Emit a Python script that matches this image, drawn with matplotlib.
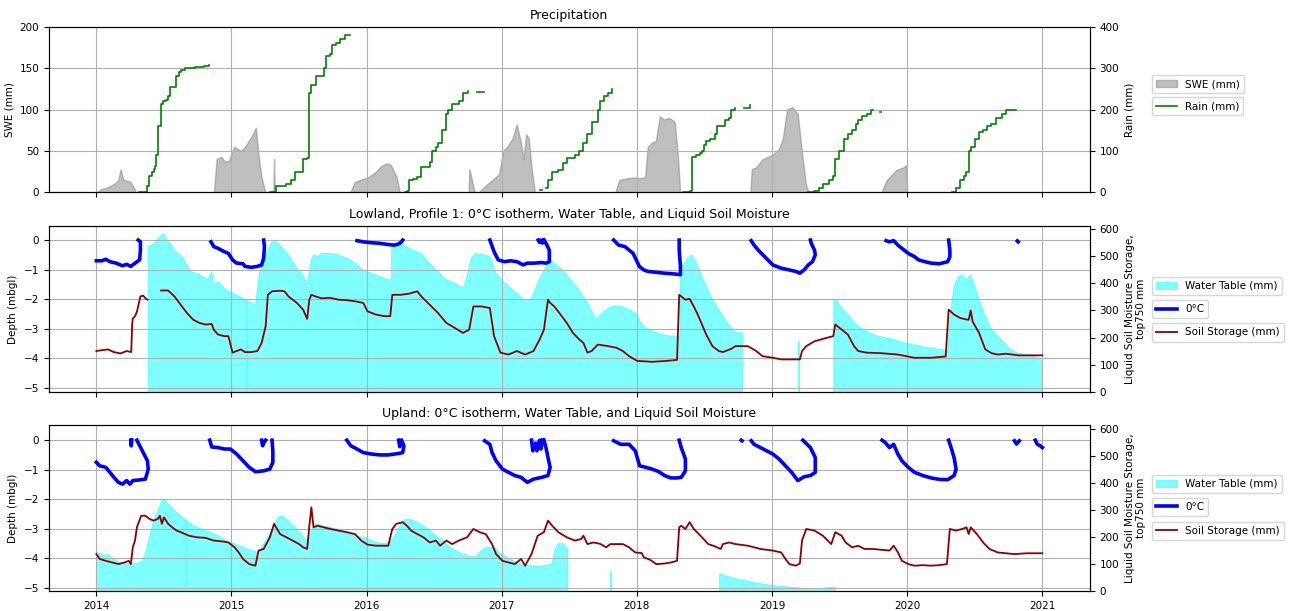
import numpy as np
import matplotlib
matplotlib.use("Agg")
import matplotlib.pyplot as plt

nan = np.nan

# ---- Precipitation ----
swe_year = [2014.00, 2014.04, 2014.07, 2014.13, 2014.16, 2014.18, 2014.20, 2014.25, 2014.28, 2014.29,
            2014.87, 2014.89, 2014.925, 2014.95, 2014.98, 2015.02, 2015.07, 2015.10, 2015.15, 2015.18, 2015.20, 2015.22, 2015.25,
            2015.31, 2015.315, 2015.32,
            2015.88, 2015.91, 2015.95, 2016.01, 2016.07, 2016.11, 2016.15, 2016.18, 2016.21, 2016.22, 2016.245,
            2016.755, 2016.76, 2016.80,
            2016.83, 2016.88, 2016.93, 2016.98, 2017.01, 2017.04, 2017.08, 2017.11, 2017.14, 2017.16, 2017.18, 2017.20, 2017.22, 2017.245,
            2017.84, 2017.87, 2017.93, 2017.98, 2018.02, 2018.06, 2018.08, 2018.11, 2018.14, 2018.17, 2018.20, 2018.24, 2018.28, 2018.305, 2018.32,
            2018.84, 2018.85, 2018.88, 2018.93, 2019.00, 2019.05, 2019.08, 2019.11, 2019.15, 2019.19, 2019.22, 2019.25, 2019.27,
            2019.81, 2019.83, 2019.85, 2019.92, 2019.97, 2019.995, 2020.0]
swe_mm = [0, 4, 5, 10, 14, 28, 15, 13, 5, 0,
          0, 40, 43, 37, 38, 55, 50, 55, 68, 78, 45, 20, 0,
          0, 40, 0,
          0, 12, 15, 18, 25, 32, 35, 33, 22, 20, 0,
          0, 28, 0,
          0, 8, 15, 22, 50, 55, 65, 82, 62, 40, 70, 65, 30, 0,
          0, 15, 17, 18, 17, 18, 55, 60, 62, 92, 88, 90, 85, 40, 0,
          0, 28, 30, 40, 45, 52, 65, 100, 103, 95, 50, 10, 0,
          0, 8, 15, 27, 30, 33, 0]

rain_year = [2014.316, 2014.37, 2014.378, 2014.393, 2014.409, 2014.424, 2014.433, 2014.445, 2014.455, 2014.476,
             2014.495, 2014.516, 2014.531, 2014.547, 2014.593, 2014.608, 2014.624, 2014.654, 2014.731, 2014.762, 2014.80, 2014.833, nan,
             2015.284, 2015.33, 2015.407, 2015.438, 2015.468, 2015.515, 2015.53, 2015.56, 2015.57, 2015.591, 2015.622,
             2015.668, 2015.684, 2015.70, 2015.73, 2015.745, 2015.776, 2015.806, 2015.837, 2015.877, nan,
             2016.283, 2016.298, 2016.313, 2016.344, 2016.375, 2016.405, 2016.467, 2016.482, 2016.513, 2016.528,
             2016.559, 2016.59, 2016.605, 2016.633, 2016.682, 2016.713, 2016.75, nan, 2016.82, 2016.866, nan,
             2017.28, 2017.296, nan, 2017.327, 2017.342, 2017.373, 2017.419, 2017.45, 2017.481, 2017.542, 2017.573,
             2017.604, 2017.634, 2017.665, 2017.696, 2017.711, 2017.727, 2017.757, 2017.788, 2017.813, nan,
             2018.344, 2018.39, 2018.405, 2018.436, 2018.467, 2018.482, 2018.498, 2018.513, 2018.544, 2018.575,
             2018.59, 2018.636, 2018.652, 2018.683, 2018.698, 2018.723, nan, 2018.79, 2018.837, nan,
             2019.268, 2019.314, 2019.345, 2019.376, 2019.422, 2019.453, 2019.468, 2019.499, 2019.53, 2019.561,
             2019.592, 2019.622, 2019.638, 2019.669, 2019.70, 2019.73, 2019.746, nan, 2019.80, 2019.81, nan,
             2020.331, 2020.362, 2020.393, 2020.424, 2020.439, 2020.455, 2020.47, 2020.501, 2020.532, 2020.562,
             2020.593, 2020.624, 2020.655, 2020.701, 2020.732, 2020.763, 2020.809]
rain_mm = [0, 0, 16, 40, 50, 56, 64, 90, 160, 214,
           220, 224, 234, 254, 280, 290, 296, 300, 302, 304, 306, 308, nan,
           0, 16, 20, 30, 50, 50, 80, 84, 240, 260, 280,
           280, 300, 330, 334, 356, 360, 370, 380, 380, nan,
           0, 4, 30, 32, 36, 60, 74, 100, 110, 120,
           150, 190, 200, 214, 220, 240, 244, nan, 242, 242, nan,
           6, 6, nan, 10, 30, 50, 54, 70, 84, 90, 100,
           120, 140, 170, 170, 200, 220, 234, 240, 250, nan,
           0, 3, 85, 90, 95, 100, 115, 125, 130, 140,
           160, 160, 175, 180, 200, 205, nan, 205, 210, nan,
           0, 3, 10, 20, 30, 40, 80, 100, 130, 140,
           150, 165, 175, 185, 190, 198, 200, nan, 195, 195, nan,
           0, 10, 30, 40, 50, 100, 110, 130, 145, 150,
           160, 165, 180, 190, 198, 200, 200]

# ---- Lowland, profile 1 ----
low_iso_year = [2014.00, 2014.04, 2014.07, 2014.10, 2014.147, 2014.194, 2014.224, 2014.255, 2014.286, 2014.32, 2014.326, 2014.326, 2014.31, nan,
                2014.848, 2014.869, 2014.90, 2014.946, 2014.977, 2015.008, 2015.038, 2015.085, 2015.10, 2015.146, 2015.192, 2015.223, 2015.238, 2015.244, 2015.238, nan,
                2015.929, 2015.975, 2016.037, 2016.098, 2016.16, 2016.206, 2016.237, 2016.258, 2016.267, nan,
                2016.912, 2016.943, 2016.974, 2017.02, 2017.066, 2017.112, 2017.158, 2017.189, 2017.235, 2017.296, 2017.327, 2017.352, 2017.352, 2017.327, 2017.312, nan,
                2017.27, 2017.28, 2017.29, 2017.30, 2017.31, nan,
                2017.828, 2017.865, 2017.911, 2017.972, 2018.018, 2018.051, 2018.082, 2018.143, 2018.205, 2018.267, 2018.322, 2018.322, 2018.313, 2018.313, nan,
                2018.846, 2018.867, 2018.898, 2018.945, 2019.006, 2019.068, 2019.129, 2019.176, 2019.206, 2019.237, 2019.268, 2019.299, 2019.32, 2019.314, 2019.29, 2019.284, nan,
                2019.844, 2019.869, 2019.90, 2019.931, 2019.961, 2020.008, 2020.054, 2020.085, 2020.131, 2020.177, 2020.239, 2020.30, 2020.316, 2020.316, 2020.307, nan,
                2020.815, 2020.822]
low_iso_depth = [-0.70, -0.70, -0.65, -0.73, -0.78, -0.87, -0.82, -0.89, -0.78, -0.67, -0.34, -0.06, 0.0, nan,
                 -0.06, -0.22, -0.28, -0.39, -0.45, -0.67, -0.78, -0.80, -0.89, -0.92, -0.89, -0.84, -0.61, -0.22, 0.0, nan,
                 -0.02, -0.06, -0.09, -0.11, -0.15, -0.17, -0.13, -0.06, 0.0, nan,
                 0.0, -0.39, -0.67, -0.73, -0.70, -0.73, -0.84, -0.78, -0.78, -0.76, -0.78, -0.73, -0.34, -0.11, 0.0, nan,
                 0.0, -0.08, 0.0, -0.10, 0.0, nan,
                 0.0, -0.17, -0.22, -0.45, -0.89, -1.01, -1.06, -1.09, -1.12, -1.14, -1.17, -0.89, -0.34, 0.0, nan,
                 -0.02, -0.17, -0.34, -0.56, -0.84, -0.95, -1.01, -1.06, -1.12, -1.01, -0.84, -0.73, -0.50, -0.34, -0.11, 0.0, nan,
                 -0.02, -0.06, -0.02, -0.17, -0.28, -0.45, -0.56, -0.67, -0.73, -0.78, -0.80, -0.73, -0.56, -0.34, 0.0, nan,
                 -0.03, -0.06]

low_wt_year = [2014.384, 2014.409, 2014.439, 2014.47, 2014.495, 2014.516, 2014.547, 2014.578, 2014.608, 2014.639,
               2014.67, 2014.70, 2014.731, 2014.762, 2014.793, 2014.823, 2014.854, 2014.869, 2014.90, 2014.931,
               2014.962, 2015.008, 2015.054, 2015.10, 2015.113, nan, 2015.118, 2015.131, 2015.177, 2015.192, 2015.207,
               2015.238, 2015.269, 2015.30, 2015.33, 2015.36, 2015.392, 2015.422, 2015.453, 2015.484, 2015.53,
               2015.56, 2015.57, 2015.591, 2015.607, 2015.637, 2015.668, 2015.73, 2015.791, 2015.853, 2015.914,
               2015.975, 2016.037, 2016.098, 2016.16, 2016.182, 2016.186, 2016.22, 2016.252, 2016.298, 2016.344,
               2016.405, 2016.467, 2016.528, 2016.59, 2016.651, 2016.713, 2016.743, 2016.774, 2016.805, 2016.866,
               2016.912, 2016.958, 2017.02, 2017.112, 2017.158, 2017.189, 2017.22, 2017.266, 2017.327, 2017.358,
               2017.389, 2017.45, 2017.511, 2017.573, 2017.634, 2017.696, 2017.757, 2017.819, 2017.88, 2017.942,
               2018.003, 2018.02, 2018.051, 2018.082, 2018.112, 2018.174, 2018.236, 2018.297, 2018.318, 2018.322,
               2018.344, 2018.374, 2018.405, 2018.436, 2018.467, 2018.513, 2018.559, 2018.606, 2018.652, 2018.698,
               2018.729, 2018.775, 2018.781, nan, 2019.195, 2019.199, nan,
               2019.456, 2019.484, 2019.515, 2019.561, 2019.607, 2019.653, 2019.715, 2019.777, 2019.838, 2019.90,
               2019.961, 2020.023, 2020.085, 2020.146, 2020.239, 2020.30, 2020.316, 2020.347, 2020.378, 2020.408,
               2020.439, 2020.47, 2020.501, 2020.532, 2020.578, 2020.624, 2020.67, 2020.716, 2020.763, 2020.809,
               2020.855, 2020.917, 2020.963, 2021.0]
low_wt_depth = [-0.22, -0.17, -0.06, 0.11, 0.22, 0.06, -0.11, -0.34, -0.45, -0.56,
                -0.84, -1.06, -1.12, -1.17, -1.23, -1.34, -1.06, -1.51, -1.40, -1.56,
                -1.68, -1.79, -1.90, -2.01, -2.04, nan, -2.05, -2.07, -2.21, -1.62, -1.12,
                -0.67, -0.34, -0.06, -0.06, -0.17, -0.34, -0.50, -0.73, -0.95, -1.17,
                -1.51, -1.23, -0.67, -0.50, -0.56, -0.45, -0.45, -0.50, -0.61, -0.78,
                -1.01, -1.12, -1.23, -1.34, -1.34, -0.17, -0.17, -0.11, -0.22, -0.34,
                -0.45, -0.78, -1.06, -1.34, -1.45, -1.62, -1.23, -0.61, -0.45, -0.50,
                -0.56, -1.12, -1.45, -1.79, -2.01, -2.07, -1.96, -1.45, -0.89, -0.67,
                -0.78, -1.01, -1.34, -1.68, -2.12, -2.68, -2.40, -2.23, -2.23, -2.35,
                -2.51, -2.74, -2.91, -3.02, -3.07, -3.18, -3.24, -3.24, -3.24, -0.89,
                -0.84, -0.61, -0.50, -0.73, -1.06, -1.56, -2.01, -2.35, -2.68, -2.96,
                -3.13, -3.13, -3.13, nan, -3.41, -3.41, nan,
                -2.01, -2.07, -2.29, -2.51, -2.79, -2.96, -3.13, -3.24, -3.30, -3.35,
                -3.46, -3.52, -3.58, -3.63, -3.69, -3.74, -2.57, -1.56, -1.23, -1.17,
                -1.34, -1.17, -1.56, -2.01, -2.57, -3.02, -3.24, -3.46, -3.69, -3.80,
                -3.85, -3.91, -3.97, -4.08]

low_soil_year = [2014.00, 2014.04, 2014.086, 2014.13, 2014.178, 2014.224, 2014.258, 2014.265, 2014.27, 2014.286,
                 2014.30, 2014.326, 2014.347, 2014.363, 2014.378, nan,
                 2014.479, 2014.531, 2014.578, 2014.624, 2014.67, 2014.716, 2014.762, 2014.808, 2014.854, 2014.869,
                 2014.90, 2014.946, 2014.977, 2015.008, 2015.038, 2015.069, 2015.10, 2015.146, 2015.192, 2015.223,
                 2015.253, 2015.269, 2015.30, 2015.36, 2015.392, 2015.422, 2015.484, 2015.53, 2015.56, 2015.576,
                 2015.591, 2015.622, 2015.668, 2015.73, 2015.791, 2015.853, 2015.914, 2015.975, 2016.006, 2016.068,
                 2016.129, 2016.175, 2016.19, 2016.252, 2016.313, 2016.375, 2016.405, 2016.467, 2016.528, 2016.59,
                 2016.651, 2016.713, 2016.759, 2016.79, 2016.851, 2016.912, 2016.943, 2016.99, 2017.05, 2017.112,
                 2017.173, 2017.235, 2017.281, 2017.312, 2017.342, 2017.358, 2017.389, 2017.435, 2017.481, 2017.527,
                 2017.573, 2017.604, 2017.634, 2017.665, 2017.711, 2017.788, 2017.85, 2017.896, 2017.942, 2018.003,
                 2018.02, 2018.112, 2018.205, 2018.297, 2018.313, 2018.359, 2018.39, 2018.421, 2018.451, 2018.482,
                 2018.513, 2018.559, 2018.606, 2018.636, 2018.698, 2018.729, 2018.821, 2018.883, 2018.929, 2019.006,
                 2019.068, 2019.16, 2019.206, 2019.222, 2019.253, 2019.314, 2019.407, 2019.453, 2019.468, 2019.499,
                 2019.561, 2019.607, 2019.638, 2019.70, 2019.807, 2019.931, 2020.054, 2020.177, 2020.285, 2020.307,
                 2020.347, 2020.393, 2020.455, 2020.47, 2020.485, 2020.532, 2020.578, 2020.624, 2020.67, 2020.732,
                 2020.824, 2020.917, 2021.0]
low_soil_mm = [150, 153, 156, 146, 141, 150, 146, 250, 270, 279,
               295, 352, 355, 345, 340, nan,
               374, 374, 352, 321, 291, 266, 254, 248, 250, 229,
               211, 205, 205, 144, 150, 156, 146, 146, 150, 180,
               242, 358, 371, 373, 371, 352, 328, 303, 269, 340,
               358, 352, 345, 347, 340, 338, 334, 328, 297, 285,
               279, 279, 358, 358, 362, 371, 352, 321, 291, 254,
               236, 217, 229, 315, 315, 309, 205, 144, 137, 150,
               137, 150, 193, 229, 340, 328, 315, 285, 254, 217,
               193, 180, 144, 150, 174, 168, 162, 150, 131, 113,
               113, 110, 113, 117, 358, 340, 343, 315, 284, 248,
               211, 168, 150, 146, 158, 168, 168, 150, 131, 125,
               119, 119, 119, 150, 168, 186, 199, 205, 248, 236,
               211, 168, 150, 144, 142, 137, 125, 125, 130, 303,
               285, 272, 265, 300, 258, 217, 156, 142, 137, 140,
               134, 134, 134]

# ---- Upland ----
up_iso_year = [2014.00, 2014.025, 2014.07, 2014.10, 2014.13, 2014.163, 2014.194, 2014.224, 2014.249, 2014.27, 2014.316, 2014.363, 2014.384, 2014.378, 2014.347, 2014.316, 2014.30, nan,
               2014.255, 2014.258, 2014.262, nan,
               2014.839, 2014.854, 2014.90, 2014.946, 2014.992, 2015.038, 2015.085, 2015.131, 2015.177, 2015.238, 2015.284, 2015.306, 2015.306, 2015.30, nan,
               2015.223, 2015.23, 2015.238, 2015.253, nan,
               2015.853, 2015.883, 2015.929, 2015.975, 2016.037, 2016.098, 2016.16, 2016.237, 2016.267, 2016.276, 2016.258, nan,
               2016.237, 2016.245, 2016.252, nan,
               2016.873, 2016.912, 2016.928, 2016.958, 2017.005, 2017.05, 2017.097, 2017.143, 2017.189, 2017.235, 2017.296, 2017.342, 2017.358, 2017.342, 2017.327, 2017.312, nan,
               2017.22, 2017.23, 2017.25, 2017.26, 2017.28, 2017.29, 2017.30, nan,
               2017.828, 2017.88, 2017.942, 2017.988, 2018.02, 2018.066, 2018.112, 2018.159, 2018.205, 2018.251, 2018.297, 2018.328, 2018.359, 2018.359, 2018.328, 2018.313, nan,
               2018.772, 2018.778, nan,
               2018.846, 2018.867, 2018.914, 2018.96, 2019.006, 2019.052, 2019.099, 2019.145, 2019.191, 2019.237, 2019.284, 2019.32, 2019.32, 2019.284, 2019.253, 2019.228, nan,
               2019.814, 2019.838, 2019.869, 2019.90, 2019.931, 2019.961, 2020.008, 2020.054, 2020.116, 2020.177, 2020.239, 2020.30, 2020.347, 2020.362, 2020.347, 2020.325, 2020.307, nan,
               2020.794, 2020.809, 2020.83, nan,
               2020.948, 2020.963, 2020.985, 2021.0]
up_iso_depth = [-0.75, -0.87, -0.92, -1.09, -1.26, -1.43, -1.49, -1.37, -1.49, -1.37, -1.35, -1.32, -0.98, -0.70, -0.42, -0.14, 0.0, nan,
                0.0, -0.19, 0.0, nan,
                0.0, -0.23, -0.25, -0.30, -0.30, -0.47, -0.70, -0.92, -1.07, -1.04, -0.98, -0.75, -0.36, 0.0, nan,
                0.0, -0.19, -0.10, 0.0, nan,
                0.0, -0.19, -0.30, -0.42, -0.47, -0.50, -0.50, -0.45, -0.42, -0.19, 0.0, nan,
                0.0, -0.22, -0.05, nan,
                -0.02, -0.14, -0.42, -0.70, -0.98, -1.09, -1.20, -1.26, -1.43, -1.32, -1.26, -1.20, -0.92, -0.59, -0.25, 0.0, nan,
                0.0, -0.36, -0.10, -0.36, 0.0, -0.30, 0.0, nan,
                -0.02, -0.14, -0.14, -0.36, -0.87, -0.92, -0.98, -1.06, -1.20, -1.28, -1.28, -1.26, -1.04, -0.64, -0.25, 0.0, nan,
                0.0, -0.02, nan,
                -0.02, -0.14, -0.25, -0.36, -0.47, -0.64, -0.87, -1.09, -1.37, -1.24, -1.20, -1.09, -0.59, -0.25, -0.11, 0.0, nan,
                0.0, -0.08, -0.25, -0.14, -0.47, -0.70, -0.92, -1.09, -1.20, -1.28, -1.33, -1.34, -1.20, -0.98, -0.59, -0.25, 0.0, nan,
                -0.02, -0.13, -0.02, nan,
                0.0, -0.14, -0.19, -0.25]

up_wt_year = [2014.00, 2014.025, 2014.055, 2014.086, 2014.13, 2014.163, 2014.194, 2014.24, 2014.286, 2014.332,
              2014.363, 2014.393, 2014.424, 2014.455, 2014.485, 2014.50, 2014.531, 2014.578, 2014.624, 2014.662, nan,
              2014.666, 2014.67, 2014.716, 2014.777, 2014.839, 2014.90, 2014.962, 2015.023, 2015.085, 2015.146,
              2015.192, 2015.223, 2015.253, 2015.30, 2015.346, 2015.376, 2015.422, 2015.468, 2015.515, 2015.56,
              2015.591, 2015.622, 2015.668, 2015.73, 2015.822, 2015.914, 2016.006, 2016.068, 2016.129, 2016.175,
              2016.22, 2016.267, 2016.313, 2016.375, 2016.436, 2016.498, 2016.559, 2016.62, 2016.682, 2016.743,
              2016.805, 2016.836, 2016.882, 2016.928, 2016.958, 2016.99, 2017.035, 2017.081, 2017.143, 2017.204,
              2017.266, 2017.327, 2017.373, 2017.389, 2017.419, 2017.45, 2017.481, 2017.49, nan,
              2017.801, 2017.805, nan,
              2018.612, 2018.729, 2018.883, 2019.006, 2019.129, 2019.253, 2019.345, 2019.453, 2019.468]
up_wt_depth = [-3.80, -3.85, -3.91, -3.87, -4.02, -4.13, -4.19, -4.19, -4.19, -4.13,
               -3.85, -3.29, -2.73, -2.39, -2.05, -1.99, -2.16, -2.39, -2.56, -2.70, nan,
               -2.71, -2.73, -2.89, -3.01, -3.12, -3.23, -3.40, -3.51, -3.63, -3.74,
               -3.80, -3.63, -3.40, -3.01, -2.61, -2.56, -2.73, -2.95, -3.18, -3.40,
               -3.06, -2.84, -2.89, -2.95, -3.06, -3.23, -3.34, -3.46, -3.51, -3.46,
               -3.12, -2.72, -2.67, -2.78, -2.95, -3.18, -3.40, -3.63, -3.80, -3.91,
               -3.96, -3.80, -3.63, -3.63, -3.68, -3.85, -3.96, -4.08, -4.19, -4.25,
               -4.28, -4.25, -4.19, -3.74, -3.51, -3.49, -3.63, -3.74, nan,
               -4.44, -4.44, nan,
               -4.53, -4.70, -4.84, -4.93, -4.98, -5.03, -5.04, -4.98, -5.00]

up_soil_year = [2014.00, 2014.025, 2014.07, 2014.117, 2014.163, 2014.209, 2014.24, 2014.255, 2014.27, 2014.286,
                2014.30, 2014.332, 2014.363, 2014.393, 2014.424, 2014.455, 2014.47, 2014.485, 2014.50, 2014.531,
                2014.562, 2014.593, 2014.624, 2014.685, 2014.747, 2014.808, 2014.869, 2014.931, 2014.977, 2015.023,
                2015.054, 2015.085, 2015.131, 2015.177, 2015.20, 2015.238, 2015.284, 2015.315, 2015.33, 2015.36,
                2015.407, 2015.453, 2015.50, 2015.53, 2015.56, 2015.576, 2015.591, 2015.607, 2015.637, 2015.684,
                2015.73, 2015.791, 2015.853, 2015.914, 2015.96, 2016.006, 2016.068, 2016.16, 2016.19, 2016.22,
                2016.267, 2016.298, 2016.329, 2016.375, 2016.421, 2016.467, 2016.513, 2016.544, 2016.59, 2016.633,
                2016.682, 2016.743, 2016.79, 2016.836, 2016.882, 2016.928, 2016.958, 2017.005, 2017.05, 2017.097,
                2017.143, 2017.173, 2017.22, 2017.266, 2017.312, 2017.342, 2017.373, 2017.419, 2017.481, 2017.542,
                2017.588, 2017.604, 2017.634, 2017.68, 2017.727, 2017.773, 2017.803, 2017.85, 2017.896, 2017.942,
                2017.988, 2018.035, 2018.051, 2018.097, 2018.143, 2018.205, 2018.251, 2018.297, 2018.313, 2018.328,
                2018.359, 2018.39, 2018.421, 2018.482, 2018.528, 2018.575, 2018.621, 2018.636, 2018.683, 2018.729,
                2018.821, 2018.914, 2019.006, 2019.068, 2019.099, 2019.129, 2019.176, 2019.206, 2019.222, 2019.253,
                2019.314, 2019.376, 2019.438, 2019.468, 2019.515, 2019.545, 2019.592, 2019.638, 2019.684, 2019.746,
                2019.807, 2019.869, 2019.90, 2019.931, 2019.961, 2020.008, 2020.054, 2020.116, 2020.177, 2020.239,
                2020.294, 2020.316, 2020.362, 2020.408, 2020.439, 2020.455, 2020.47, 2020.516, 2020.562, 2020.609,
                2020.67, 2020.732, 2020.794, 2020.886, 2020.978, 2021.0]
up_soil_mm = [136, 118, 111, 105, 99, 105, 111, 99, 161, 186,
              235, 278, 278, 266, 260, 266, 278, 248, 272, 248,
              235, 223, 217, 204, 198, 196, 186, 183, 179, 161,
              142, 118, 99, 93, 149, 155, 198, 248, 235, 210,
              198, 186, 173, 161, 155, 241, 309, 235, 241, 235,
              229, 223, 217, 210, 186, 171, 167, 167, 229, 248,
              254, 241, 223, 210, 198, 179, 186, 167, 186, 173,
              186, 198, 229, 217, 210, 173, 136, 111, 105, 99,
              118, 93, 136, 204, 217, 260, 241, 217, 198, 186,
              192, 204, 173, 179, 174, 161, 173, 173, 173, 161,
              142, 140, 124, 115, 99, 101, 105, 111, 235, 241,
              229, 254, 229, 198, 173, 165, 155, 173, 179, 173,
              167, 155, 149, 142, 118, 99, 93, 101, 186, 229,
              223, 204, 173, 217, 204, 179, 161, 167, 155, 155,
              152, 149, 167, 143, 111, 99, 93, 95, 93, 95,
              99, 229, 223, 229, 235, 210, 235, 210, 179, 155,
              142, 139, 136, 139, 139, 139]

years = list(range(2014, 2022))

plt.rcParams['font.family'] = ['DejaVu Sans']
plt.rcParams['font.size'] = 7.5

fig, axes = plt.subplots(3, 1, figsize=(12.91, 6.11), dpi=100, sharex=True)
fig.subplots_adjust(left=0.038, right=0.844, top=0.956, bottom=0.033, hspace=0.205)

# precipitation panel
ax = axes[0]
ax.fill_between(swe_year, swe_mm, 0, color='grey', alpha=0.5, label='SWE (mm)')
ax.set_ylim(0, 200)
ax.set_yticks([0, 50, 100, 150, 200])
ax.set_ylabel('SWE (mm)')
ax.set_title('Precipitation', fontsize=9)
ax.grid(True)
ax2 = ax.twinx()
ax2.plot(rain_year, rain_mm, color='green', lw=1.2, drawstyle='steps-post', label='Rain (mm)')
ax2.set_ylim(0, 400)
ax2.set_yticks([0, 100, 200, 300, 400])
ax2.set_ylabel('Rain (mm)')
h1, l1 = ax.get_legend_handles_labels()
h2, l2 = ax2.get_legend_handles_labels()
fig.legend(h1, l1, loc='upper left', bbox_to_anchor=(0.892, 0.877), borderaxespad=0, fontsize=7.5)
fig.legend(h2, l2, loc='upper left', bbox_to_anchor=(0.892, 0.841), borderaxespad=0, fontsize=7.5)


def depth_panel(ax, title, wt_x, wt_y, iso_x, iso_y, soil_x, soil_y, legend_tops, ylim):
    wt_y = np.array(wt_y, dtype=float)
    wt = ax.fill_between(wt_x, wt_y, -6, color='cyan', alpha=0.5, lw=0.6, label='Water Table (mm)')
    iso, = ax.plot(iso_x, iso_y, color='blue', lw=2.6, label='0°C')
    ax.set_ylim(*ylim)
    ax.set_yticks([0, -1, -2, -3, -4, -5])
    ax.set_ylabel('Depth (mbgl)')
    ax.set_title(title, fontsize=9)
    ax.grid(True)
    axr = ax.twinx()
    soil, = axr.plot(soil_x, soil_y, color='darkred', lw=1.3, label='Soil Storage (mm)')
    axr.set_ylim(0, 612)
    axr.set_yticks([0, 100, 200, 300, 400, 500, 600])
    axr.set_ylabel('Liquid Soil Moisture Storage,\ntop750 mm')
    for h, top in zip([wt, iso, soil], legend_tops):
        fig.legend(handles=[h], loc='upper left', bbox_to_anchor=(0.892, top),
                   borderaxespad=0, fontsize=7.5)


depth_panel(axes[1], 'Lowland, Profile 1: 0°C isotherm, Water Table, and Liquid Soil Moisture',
            low_wt_year, low_wt_depth, low_iso_year, low_iso_depth, low_soil_year, low_soil_mm,
            [0.547, 0.509, 0.471], (-5.12, 0.47))
depth_panel(axes[2], 'Upland: 0°C isotherm, Water Table, and Liquid Soil Moisture',
            up_wt_year, up_wt_depth, up_iso_year, up_iso_depth, up_soil_year, up_soil_mm,
            [0.223, 0.185, 0.146], (-5.11, 0.5))

axes[2].set_xticks(years)
axes[2].set_xticklabels([str(y) for y in years])
axes[2].set_xlim(2013.65, 2021.35)

fig.savefig('out.png', dpi=100)
